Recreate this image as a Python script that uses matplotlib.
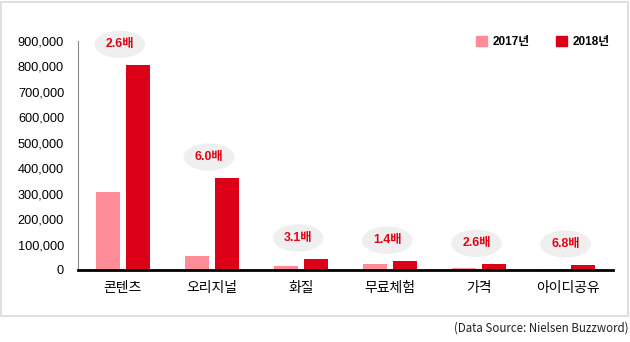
import matplotlib
matplotlib.use('Agg')
import matplotlib.pyplot as plt
from matplotlib.patches import Rectangle, Patch
from matplotlib.ticker import FuncFormatter

plt.rcParams['font.family'] = ['Liberation Sans', 'Noto Sans CJK KR', 'DejaVu Sans']

# ── 데이터 ─────────────────────────────────────────────
categories = ['콘텐츠', '오리지널', '화질', '무료체험', '가격', '아이디공유']
v2017 = [305000, 55000, 14000, 25000, 9000, 3000]
v2018 = [805000, 362000, 44000, 35000, 23000, 20000]
ratios = ['2.6배', '6.0배', '3.1배', '1.4배', '2.6배', '6.8배']
series = ['2017년', '2018년']

C17 = '#FF8C96'
C18 = '#DC0019'

fig = plt.figure(figsize=(6.3, 3.42), dpi=100, facecolor='white')
ax = fig.add_axes([78/630, 1-270/342, (613-78)/630, (270-41)/342])

# 외곽 테두리
fig.patches.append(Rectangle((1/630, 1-316/342), 627/630, 314/342,
                             transform=fig.transFigure, fill=False,
                             edgecolor='#D9D9D9', lw=1.2))

x = list(range(len(categories)))
w = 0.27
off = 0.168
ax.bar([i - off for i in x], v2017, w, color=C17)
ax.bar([i + off for i in x], v2018, w, color=C18)

# 증가 배수 말풍선
for i, (v, r) in enumerate(zip(v2018, ratios)):
    ax.annotate(r, (i, v), xytext=(-2, 15), textcoords='offset points',
                ha='center', va='center', fontsize=8.8, fontweight='bold',
                color='#E60012',
                bbox=dict(boxstyle='ellipse,pad=0.3', fc='#EFEFEF', ec='none'))

ax.set_xlim(-0.5, 5.5)
ax.set_ylim(0, 900000)
ax.set_yticks(range(0, 900001, 100000))
ax.yaxis.set_major_formatter(FuncFormatter(lambda v, p: f'{int(v):,}'))
ax.set_xticks(x)
ax.set_xticklabels(categories, fontsize=10, family=['Noto Sans CJK KR'])
ax.tick_params(axis='y', length=0, labelsize=9.2, pad=10)
ax.tick_params(axis='x', length=0, pad=8)

for s in ['top', 'right']:
    ax.spines[s].set_visible(False)
ax.spines['left'].set_color('#888888')
ax.spines['left'].set_linewidth(0.8)
ax.spines['bottom'].set_color('black')
ax.spines['bottom'].set_linewidth(2)

handles = [Patch(color=C17), Patch(color=C18)]
leg = fig.legend(handles, series, loc='center', bbox_to_anchor=(543/630, 1-42/342),
                 ncol=2, frameon=False, handlelength=0.9, handleheight=0.9,
                 handletextpad=0.5, columnspacing=2.2,
                 prop={'size': 8.5, 'weight': 'bold',
                       'family': ['Liberation Sans', 'Noto Sans CJK KR']})

fig.text(628/630, 1-328/342, '(Data Source: Nielsen Buzzword)', ha='right',
         va='center', fontsize=8.3, family=['Noto Sans CJK KR'], color='#222222')

plt.savefig('out.png', dpi=100, facecolor='white')
